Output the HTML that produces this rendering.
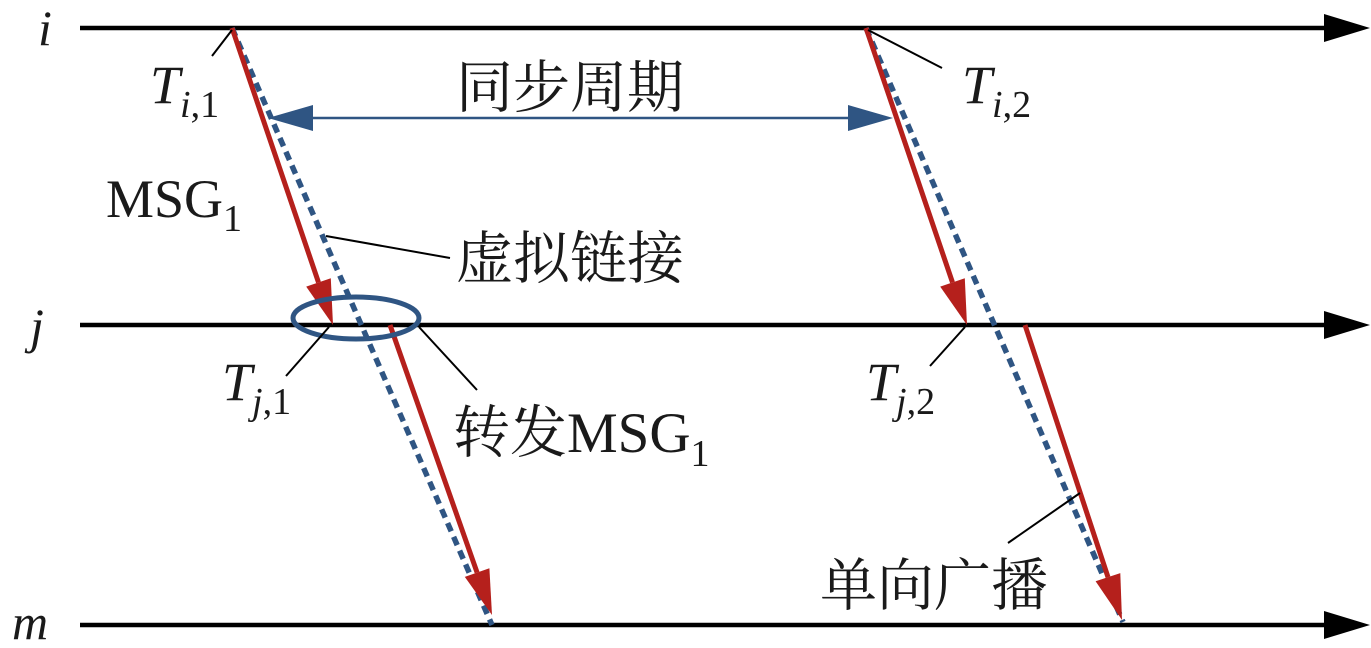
<!DOCTYPE html>
<html><head><meta charset="utf-8"><style>
html,body{margin:0;padding:0;background:#fff;}
svg{display:block;}
.t{font-family:"Liberation Serif",serif;fill:#1a1a1a;}
.c{font-family:"Liberation Serif","Noto Serif CJK SC",serif;fill:#1a1a1a;}
</style></head><body>
<svg width="1371" height="648" viewBox="0 0 1371 648" xmlns="http://www.w3.org/2000/svg">
<g stroke="#000" stroke-width="4.5">
<line x1="80" y1="28" x2="1330" y2="28"/>
<line x1="80" y1="325" x2="1330" y2="325"/>
<line x1="80" y1="625" x2="1330" y2="625"/>
</g>
<g fill="#000">
<polygon points="1324,14 1370,28 1324,42"/>
<polygon points="1324,311 1370,325 1324,339"/>
<polygon points="1324,611 1370,625 1324,639"/>
</g>
<g stroke="#2f5583" stroke-width="5.5" stroke-dasharray="9 6">
<line x1="232" y1="28" x2="492" y2="625"/>
<line x1="866" y1="28" x2="1123" y2="622"/>
</g>
<g stroke="#b5201c" stroke-width="5">
<line x1="232" y1="28" x2="318.5" y2="282.4"/>
<line x1="390" y1="325" x2="477.1" y2="572.6"/>
<line x1="866" y1="28" x2="952.5" y2="282.4"/>
<line x1="1025" y1="325" x2="1108" y2="577.2"/>
</g>
<g fill="#b5201c">
<polygon points="333,325 306.2,286.6 330.8,278.2"/>
<polygon points="492,615 464.8,576.9 489.4,568.3"/>
<polygon points="967,325 940.2,286.6 964.8,278.2"/>
<polygon points="1122,620 1095.6,581.3 1120.3,573.1"/>
</g>
<line x1="300" y1="118" x2="862" y2="118" stroke="#2f5583" stroke-width="2.5"/>
<polygon points="268,118 313,105 313,131" fill="#2f5583"/>
<polygon points="893,118 848,105 848,131" fill="#2f5583"/>
<ellipse cx="356" cy="318" rx="63" ry="21" fill="none" stroke="#2f5583" stroke-width="5"/>
<g stroke="#000" stroke-width="2">
<line x1="232" y1="30" x2="212" y2="56"/>
<line x1="868" y1="30" x2="942" y2="68"/>
<line x1="326" y1="236" x2="450" y2="258"/>
<line x1="329" y1="327" x2="286" y2="376"/>
<line x1="419" y1="327" x2="477" y2="390"/>
<line x1="965" y1="327" x2="930" y2="366"/>
<line x1="1080" y1="493" x2="1008" y2="543"/>
</g>
<text class="t" x="38" y="45" font-size="50" font-style="italic">i</text>
<text class="t" x="30" y="343" font-size="50" font-style="italic">j</text>
<text class="t" x="12" y="639" font-size="50" font-style="italic">m</text>
<text class="t" x="150" y="103" font-size="54" font-style="italic">T<tspan font-size="38" dy="14">i</tspan><tspan font-size="38" font-style="normal">,1</tspan></text>
<text class="t" x="962" y="103" font-size="54" font-style="italic">T<tspan font-size="38" dy="14">i</tspan><tspan font-size="38" font-style="normal">,2</tspan></text>
<text class="t" x="222" y="400" font-size="54" font-style="italic">T<tspan font-size="38" dy="14">j</tspan><tspan font-size="38" font-style="normal">,1</tspan></text>
<text class="t" x="866" y="400" font-size="54" font-style="italic">T<tspan font-size="38" dy="14">j</tspan><tspan font-size="38" font-style="normal">,2</tspan></text>
<text class="t" x="106" y="217" font-size="54">MSG<tspan font-size="38" dy="14">1</tspan></text>
<text class="c" x="456" y="107" font-size="57">同步周期</text>
<text class="c" x="456" y="278" font-size="57">虚拟链接</text>
<text class="c" x="453" y="452" font-size="57">转发MSG<tspan font-size="38" dy="14">1</tspan></text>
<text class="c" x="820" y="605" font-size="57">单向广播</text>
</svg>
</body></html>
